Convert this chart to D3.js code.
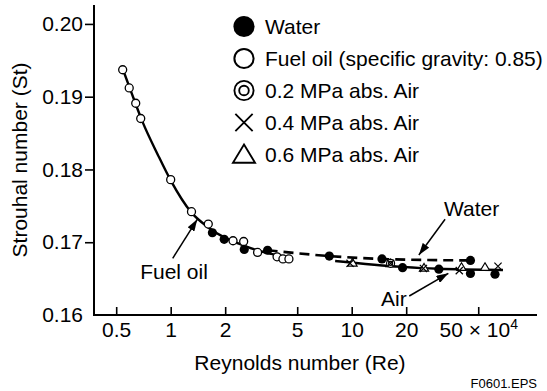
<!DOCTYPE html>
<html>
<head>
<meta charset="utf-8">
<script src="https://cdn.jsdelivr.net/npm/d3@7"></script>
<style>
  html, body { margin: 0; padding: 0; background: #fff; }
  svg { display: block; }
  text { font-family: "Liberation Sans", Arial, Helvetica, sans-serif; fill: #000; }
</style>
</head>
<body>
<svg id="chart" width="547" height="391"></svg>
<script>
// ---------- data ----------
const xTicks = [0.5, 1, 2, 5, 10, 20, 50];
const yTicks = [0.16, 0.17, 0.18, 0.19, 0.20];

// Fuel oil (open circles)
const fuelX = [0.543, 0.590, 0.641, 0.683, 1.0, 1.303, 1.613, 2.21, 2.53, 3.02, 3.87, 4.17, 4.50];
const fuelY = [0.1937, 0.1912, 0.1891, 0.1870, 0.1786, 0.1742, 0.1725, 0.1702, 0.1701, 0.1686, 0.1680, 0.1677, 0.1677];

// Water (filled circles)
const waterX = [1.70, 1.975, 2.55, 3.43, 7.52, 14.7, 19.1, 30.3, 45.3, 45.3, 61.9];
const waterY = [0.1713, 0.1704, 0.1690, 0.1689, 0.1681, 0.1677, 0.1665, 0.1663, 0.1675, 0.1657, 0.1656];

// Air
const air02X = [16.4];
const air02Y = [0.1671];
const air04X = [9.79, 16.4, 24.9, 39.3, 64.3];
const air04Y = [0.1671, 0.1671, 0.1664, 0.1661, 0.1667];
const air06X = [10.1, 16.4, 25.1, 40.4, 54.5];
const air06Y = [0.1672, 0.1671, 0.1665, 0.1666, 0.1666];

// Fitted curves
const fuelCurveX = [0.54, 0.60, 0.70, 0.85, 1.0, 1.3, 1.6, 2.0, 2.5, 3.0, 3.6, 4.5];
const fuelCurveY = [0.1940, 0.1909, 0.1865, 0.1820, 0.1785, 0.1741, 0.1721, 0.1706, 0.1696, 0.1689, 0.1684, 0.1679];
const waterCurveX = [3.43, 7.52, 14.7, 25, 45.3];
const waterCurveY = [0.1689, 0.1681, 0.1677, 0.16757, 0.1675];
const airCurveX = [8.1, 19, 30, 68.5];
const airCurveY = [0.16742, 0.16661, 0.16635, 0.16619];

// Legend
const legendLabels = ["Water", "Fuel oil (specific gravity: 0.85)", "0.2 MPa abs. Air", "0.4 MPa abs. Air", "0.6 MPa abs. Air"];
const legendSymbols = ["filled", "open", "double", "cross", "triangle"];

// Annotations (data coordinates)
const notes = [
  {text: "Fuel oil", tx: 1.043, ty: 0.16488, from: [1.026, 0.16779], to: [1.403, 0.17315]},
  {text: "Water", tx: 46.0, ty: 0.17361, from: [32.8, 0.17316], to: [23.5, 0.16825]},
  {text: "Air", tx: 17.1, ty: 0.16124, from: [20.8, 0.16261], to: [34.2, 0.16573]}
];

// ---------- layout ----------
const L = 94, R = 537, T = 5, B = 315;
const FS = 21;

const svg = d3.select("#chart");
const x = d3.scaleLog().domain([0.377, 105.6]).range([L, R]);
const y = d3.scaleLinear().domain([0.16, 0.2026]).range([B, T]);

const defs = svg.append("defs");
defs.append("marker")
  .attr("id", "arrow").attr("viewBox", "0 0 12 8")
  .attr("refX", 12).attr("refY", 4)
  .attr("markerWidth", 12).attr("markerHeight", 8)
  .attr("markerUnits", "userSpaceOnUse")
  .attr("orient", "auto")
  .append("path").attr("d", "M0,0 L12,4 L0,8 Z").attr("fill", "#000");

// ---------- axes ----------
const yAxis = d3.axisLeft(y).tickValues(yTicks).tickFormat(d3.format(".2f"))
  .tickSize(9).tickSizeOuter(0).tickPadding(2);
const gy = svg.append("g").attr("transform", `translate(${L},0)`).call(yAxis);
gy.select(".domain").remove();
gy.selectAll(".tick line").attr("stroke", "#000").attr("stroke-width", 1.6)
  .filter(d => d === 0.16).remove();
gy.selectAll(".tick text").attr("font-size", FS).style("font-family", "Liberation Sans, Arial, sans-serif");

const xAxis = d3.axisBottom(x).tickValues(xTicks).tickFormat(d3.format("")).tickSize(-8).tickSizeOuter(0).tickPadding(7);
const gx = svg.append("g").attr("transform", `translate(0,${B})`).call(xAxis);
gx.select(".domain").remove();
gx.selectAll(".tick line").attr("stroke", "#000").attr("stroke-width", 1.6);
gx.selectAll(".tick text").attr("font-size", FS).style("font-family", "Liberation Sans, Arial, sans-serif")
  .each(function(d) {
    if (d === 50) {
      const t = d3.select(this).text("");
      t.append("tspan").text("50 \u00D7 10");
      t.append("tspan").attr("font-size", 14).attr("dy", "-0.55em").text("4");
    }
  });

// axis lines
svg.append("line").attr("x1", L).attr("x2", L).attr("y1", T).attr("y2", B + 1)
  .attr("stroke", "#000").attr("stroke-width", 2);
svg.append("line").attr("x1", L - 1).attr("x2", R).attr("y1", B).attr("y2", B)
  .attr("stroke", "#000").attr("stroke-width", 2);

// axis titles
svg.append("text").attr("x", 300).attr("y", 370).attr("text-anchor", "middle")
  .attr("font-size", FS).text("Reynolds number (Re)");
svg.append("text").attr("transform", `translate(27,160) rotate(-90)`).attr("text-anchor", "middle")
  .attr("font-size", FS).text("Strouhal number (St)");

svg.append("text").attr("x", 537).attr("y", 388).attr("text-anchor", "end")
  .attr("font-size", 13).text("F0601.EPS");

// ---------- curves ----------
const line = d3.line().x(d => x(d[0])).y(d => y(d[1])).curve(d3.curveMonotoneX);
svg.append("path").datum(d3.zip(fuelCurveX, fuelCurveY)).attr("d", line)
  .attr("fill", "none").attr("stroke", "#000").attr("stroke-width", 2.4);
svg.append("path").datum(d3.zip(airCurveX, airCurveY)).attr("d", line)
  .attr("fill", "none").attr("stroke", "#000").attr("stroke-width", 2.4);
svg.append("path").datum(d3.zip(waterCurveX, waterCurveY)).attr("d", line)
  .attr("fill", "none").attr("stroke", "#000").attr("stroke-width", 2.6)
  .attr("stroke-dasharray", "10,6");

// ---------- symbols ----------
function drawSymbol(g, type, cx, cy, s) {
  if (type === "filled") {
    g.append("circle").attr("cx", cx).attr("cy", cy).attr("r", 4.6 * s).attr("fill", "#000");
  } else if (type === "open") {
    g.append("circle").attr("cx", cx).attr("cy", cy).attr("r", 4.0 * s)
      .attr("fill", "#fff").attr("stroke", "#000").attr("stroke-width", 1.3 * Math.sqrt(s));
  } else if (type === "double") {
    g.append("circle").attr("cx", cx).attr("cy", cy).attr("r", 4.0 * s)
      .attr("fill", "#fff").attr("stroke", "#000").attr("stroke-width", 1.2 * Math.sqrt(s));
    g.append("circle").attr("cx", cx).attr("cy", cy).attr("r", 2.0 * s)
      .attr("fill", "none").attr("stroke", "#000").attr("stroke-width", 1.2 * Math.sqrt(s));
  } else if (type === "cross") {
    const h = 3.6 * s;
    g.append("path").attr("d", `M${cx - h},${cy - h}L${cx + h},${cy + h}M${cx - h},${cy + h}L${cx + h},${cy - h}`)
      .attr("stroke", "#000").attr("stroke-width", 1.2 * Math.sqrt(s)).attr("fill", "none");
  } else if (type === "triangle") {
    const w = 4.6 * s, hh = 7.6 * s;
    g.append("path").attr("d", `M${cx},${cy - hh * 0.55}L${cx + w},${cy + hh * 0.45}L${cx - w},${cy + hh * 0.45}Z`)
      .attr("fill", "#fff").attr("stroke", "#000").attr("stroke-width", 1.2 * Math.sqrt(s)).attr("stroke-linejoin", "miter");
  }
}

const gm = svg.append("g");
d3.zip(waterX, waterY).forEach(d => drawSymbol(gm, "filled", x(d[0]), y(d[1]), 1));
d3.zip(fuelX, fuelY).forEach(d => drawSymbol(gm, "open", x(d[0]), y(d[1]), 1));
d3.zip(air06X, air06Y).forEach(d => drawSymbol(gm, "triangle", x(d[0]), y(d[1]), 1));
d3.zip(air02X, air02Y).forEach(d => drawSymbol(gm, "double", x(d[0]), y(d[1]), 1));
d3.zip(air04X, air04Y).forEach(d => drawSymbol(gm, "cross", x(d[0]), y(d[1]), 1));

// ---------- legend ----------
const lg = svg.append("g");
legendLabels.forEach((lab, i) => {
  const cy = 26.5 + i * 32;
  drawSymbol(lg, legendSymbols[i], 244, cy, legendSymbols[i] === "filled" ? 2.3 : 2.4);
  lg.append("text").attr("x", 265).attr("y", cy + 7.5).attr("font-size", FS).text(lab);
});

// ---------- annotations ----------
notes.forEach(n => {
  svg.append("text").attr("x", x(n.tx)).attr("y", y(n.ty)).attr("text-anchor", "middle")
    .attr("font-size", FS).text(n.text);
  svg.append("line")
    .attr("x1", x(n.from[0])).attr("y1", y(n.from[1]))
    .attr("x2", x(n.to[0])).attr("y2", y(n.to[1]))
    .attr("stroke", "#000").attr("stroke-width", 1.5)
    .attr("marker-end", "url(#arrow)");
});
</script>
</body>
</html>
